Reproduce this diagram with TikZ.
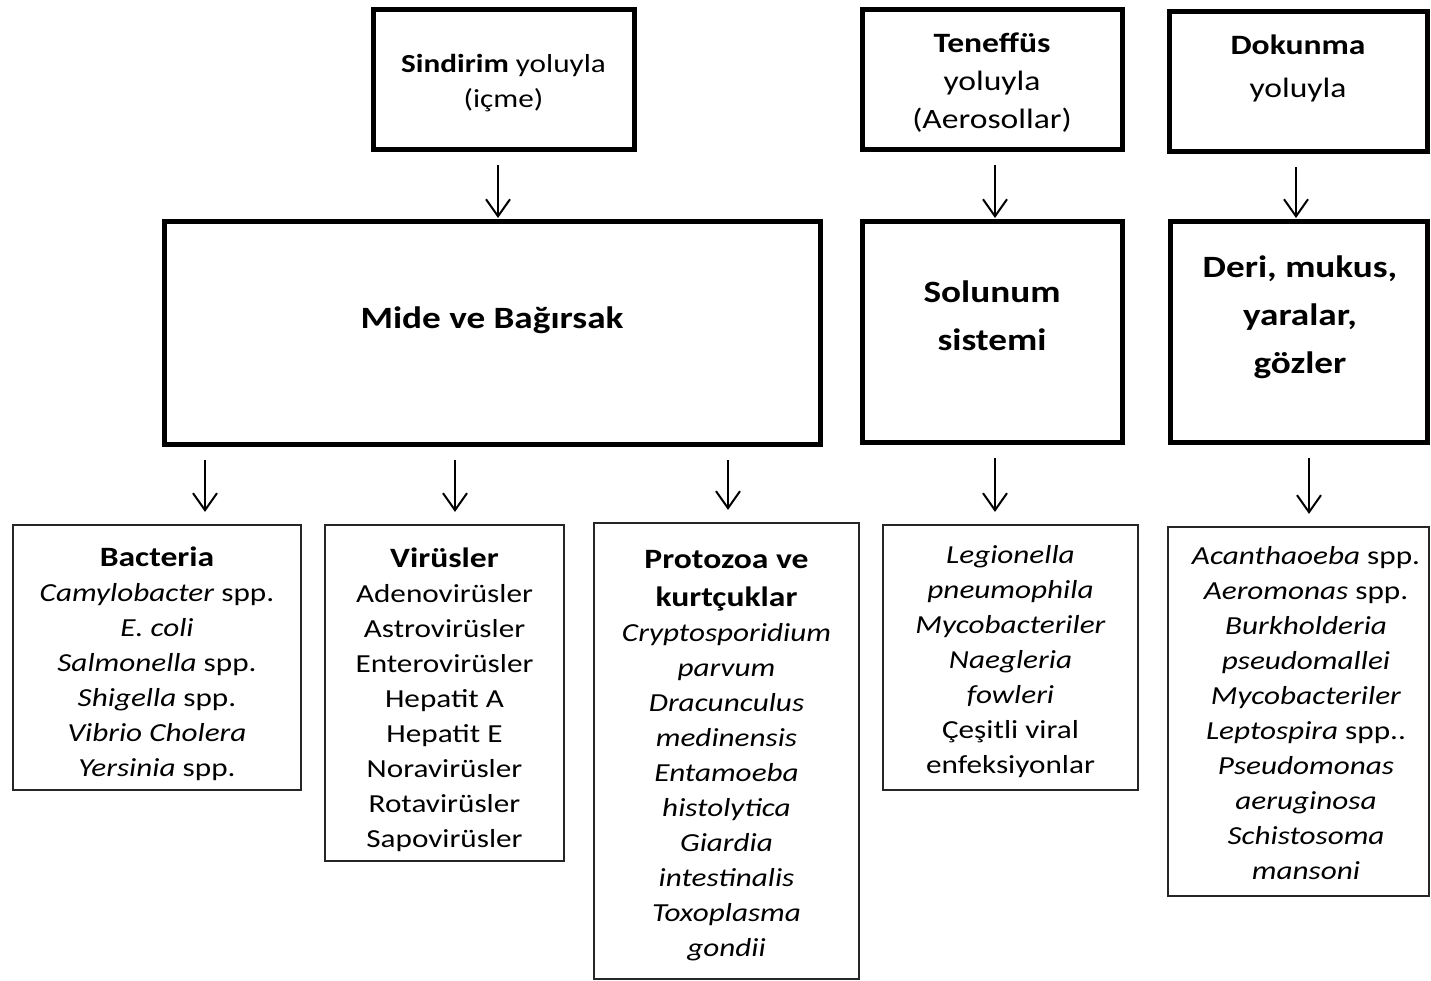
\documentclass[tikz,border=0pt]{standalone}
\usepackage{fontspec}
\setmainfont{Carlito}[FakeStretch=1.2]
\usetikzlibrary{arrows.meta}
\newcommand{\hdr}[1]{{\fontsize{28pt}{35pt}\selectfont\textbf{#1}}}
\newcommand{\topstrut}[1]{\rule{0pt}{#1}}
\begin{document}
\begin{tikzpicture}[x=1pt,y=-1pt,
  thickbox/.style={draw=black, line width=5pt, inner sep=0pt, align=center},
  thinbox/.style={draw=black!85, line width=2.2pt, inner sep=0pt, align=center,
     font=\fontsize{26pt}{35pt}\selectfont},
  toptxt/.style={font=\fontsize{26pt}{35pt}\selectfont},
  midtxt/.style={align=center, inner sep=0pt, font=\fontsize{31pt}{48pt}\selectfont\bfseries},
  arr/.style={line width=2pt, -{Straight Barb[length=17pt,width=24pt,line width=2pt]}},
  arrtop/.style={arr, shorten <=12.5pt, shorten >=1.5pt},
  arrlow/.style={arr, shorten <=13.5pt, shorten >=12pt}]
\useasboundingbox (0,0) rectangle (1431,981);
\fill[white] (0,0) rectangle (1431,981);

% top boxes
\node[thickbox, minimum width=261pt, minimum height=140pt, toptxt] (sin) at (503.5,80)
  {\topstrut{24pt}\textbf{Sindirim} yoluyla\\(içme)};
\node[thickbox, minimum width=260pt, minimum height=140pt,
  font=\fontsize{28pt}{38pt}\selectfont] (ten) at (992,80)
  {\topstrut{25.5pt}\textbf{Teneffüs}\\yoluyla\\(Aerosollar)};
\node[thickbox, minimum width=258pt, minimum height=140pt] (dok) at (1298,82) {};
\node[align=center, inner sep=0pt, font=\fontsize{28pt}{43pt}\selectfont] (dokt) at (1298,68)
  {\textbf{Dokunma}\\yoluyla};

% middle boxes
\node[thickbox, minimum width=656pt, minimum height=222pt] (mide) at (492,333) {};
\node[midtxt] (midet) at (492,320) {Mide ve Bağırsak};
\node[thickbox, minimum width=260pt, minimum height=220pt] (sol) at (992,332) {};
\node[midtxt] (solt) at (992,316) {Solunum\\sistemi};
\node[thickbox, minimum width=257pt, minimum height=220pt] (deri) at (1298.5,332) {};
\node[midtxt] (derit) at (1300,317) {Deri, mukus,\\yaralar,\\gözler};

% lower boxes
\node[thinbox, minimum width=288pt, minimum height=265pt] (bac) at (157,657.5)
  {\topstrut{33pt}\hdr{Bacteria}\\
   \textit{Camylobacter} spp.\\
   \textit{E. coli}\\
   \textit{Salmonella} spp.\\
   \textit{Shigella} spp.\\
   \textit{Vibrio Cholera}\\
   \textit{Yersinia} spp.};
\node[thinbox, minimum width=239pt, minimum height=336pt] (vir) at (444.5,693)
  {\topstrut{33.5pt}\hdr{Virüsler}\\
   Adenovirüsler\\
   Astrovirüsler\\
   Enterovirüsler\\
   Hepatit A\\
   Hepatit E\\
   Noravirüsler\\
   Rotavirüsler\\
   Sapovirüsler};
\node[thinbox, minimum width=265pt, minimum height=456pt] (pro) at (726.5,751)
  {\topstrut{26.5pt}\hdr{Protozoa ve}\\[3pt]
   \hdr{kurtçuklar}\\
   \textit{Cryptosporidium}\\
   \textit{parvum}\\
   \textit{Dracunculus}\\
   \textit{medinensis}\\
   \textit{Entamoeba}\\
   \textit{histolytica}\\
   \textit{Giardia}\\
   \textit{intestinalis}\\
   \textit{Toxoplasma}\\
   \textit{gondii}};
\node[thinbox, minimum width=255pt, minimum height=265pt] (leg) at (1010.5,657.5)
  {\topstrut{26pt}\textit{Legionella}\\
   \textit{pneumophila}\\
   \textit{Mycobacteriler}\\
   \textit{Naegleria}\\
   \textit{fowleri}\\
   Çeşitli viral\\
   enfeksiyonlar};
\node[thinbox, minimum width=261pt, minimum height=369pt] (aca) at (1298.5,711.5) {};
\node[align=center, inner sep=0pt, font=\fontsize{26pt}{35pt}\selectfont] (acat) at (1306,713)
  {\textit{Acanthaoeba} spp.\\
   \textit{Aeromonas} spp.\\
   \textit{Burkholderia}\\
   \textit{pseudomallei}\\
   \textit{Mycobacteriler}\\
   \textit{Leptospira} spp..\\
   \textit{Pseudomonas}\\
   \textit{aeruginosa}\\
   \textit{Schistosoma}\\
   \textit{mansoni}};

% arrow x positions
\coordinate (x1) at (498,0);
\coordinate (x2) at (995,0);
\coordinate (x3) at (1296,0);
\coordinate (x4) at (205,0);
\coordinate (x5) at (455,0);
\coordinate (x6) at (728,0);
\coordinate (x7) at (995,0);
\coordinate (x8) at (1309,0);

\draw[arrtop] (sin.south -| x1) -- (mide.north -| x1);
\draw[arrtop] (ten.south -| x2) -- (sol.north -| x2);
\draw[arrtop] (dok.south -| x3) -- (deri.north -| x3);
\draw[arrlow] (mide.south -| x4) -- (bac.north -| x4);
\draw[arrlow] (mide.south -| x5) -- (vir.north -| x5);
\draw[arrlow] (mide.south -| x6) -- (pro.north -| x6);
\draw[arrlow] (sol.south -| x7) -- (leg.north -| x7);
\draw[arrlow] (deri.south -| x8) -- (aca.north -| x8);
\end{tikzpicture}
\end{document}
